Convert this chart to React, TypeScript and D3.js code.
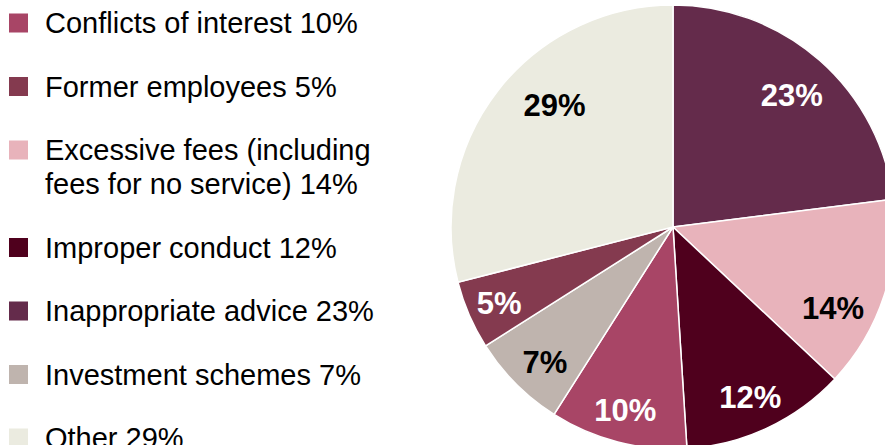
import React, { useEffect, useRef } from 'react';
import * as d3 from 'd3';

// legend order
const categories = [
  'Conflicts of interest',
  'Former employees',
  'Excessive fees (including|fees for no service)',
  'Improper conduct',
  'Inappropriate advice',
  'Investment schemes',
  'Other',
];
const values = [10, 5, 14, 12, 23, 7, 29];
const colors = ['#a84566', '#843a4f', '#e8b3bb', '#4f001d', '#642b4b', '#bfb4ae', '#ebebe0'];
const labelColors = ['#fff', '#fff', '#000', '#fff', '#fff', '#000', '#000'];

// clockwise order of the slices starting at 12 o'clock
const pieOrder = [4, 2, 3, 0, 5, 1, 6];
// small hand nudges for the slice labels (same order as legend)
const labelNudge = [[-2, 5], [-5, 3], [-15, 24], [-1, 3], [-3, 6], [2, 5], [27, -9]];

const App = () => {
  const svgRef = useRef<SVGSVGElement>(null);

  useEffect(() => {
    const svg = d3.select(svgRef.current);
    svg.selectAll('*').remove();

    const font = '"Liberation Sans", Arial, sans-serif';
    const cx = 673;
    const cy = 227;
    const radius = 222;

    const data = pieOrder.map(i => ({ i, value: values[i] }));
    const pie = d3.pie<any>().sort(null).value(d => d.value);
    const arcs = pie(data);

    const arc = d3.arc<any>().innerRadius(0).outerRadius(radius);
    const labelArc = d3.arc<any>().innerRadius(184).outerRadius(184);

    const g = svg.append('g').attr('transform', `translate(${cx},${cy})`);

    g.selectAll('path')
      .data(arcs)
      .enter().append('path')
      .attr('d', arc)
      .attr('fill', d => colors[d.data.i])
      .attr('stroke', '#fff')
      .attr('stroke-width', 1.5);

    g.selectAll('text')
      .data(arcs)
      .enter().append('text')
      .attr('transform', d => {
        const [x, y] = labelArc.centroid(d);
        const [nx, ny] = labelNudge[d.data.i];
        return `translate(${x + nx},${y + ny})`;
      })
      .attr('text-anchor', 'middle')
      .attr('dy', '0.36em')
      .attr('font-family', font)
      .attr('font-weight', 'bold')
      .attr('font-size', 31)
      .attr('fill', d => labelColors[d.data.i])
      .text(d => `${d.data.value}%`);

    // legend
    const legend = svg.append('g');
    let y = 23;
    categories.forEach((name, i) => {
      const lines = name.split('|');
      legend.append('rect')
        .attr('x', 9)
        .attr('y', y - 9.5)
        .attr('width', 19)
        .attr('height', 19)
        .attr('fill', colors[i]);
      const t = legend.append('text')
        .attr('font-family', font)
        .attr('font-size', 29)
        .attr('fill', '#000');
      lines.forEach((line, j) => {
        t.append('tspan')
          .attr('x', 45)
          .attr('y', y + j * 34)
          .attr('dy', '0.36em')
          .text(j === lines.length - 1 ? `${line} ${values[i]}%` : line);
      });
      y += 63.5 + (lines.length - 1) * 34;
    });
  }, []);

  return (
    <svg
      ref={svgRef}
      width={885}
      height={445}
      style={{ position: 'absolute', left: 0, top: 0, background: '#fff' }}
    />
  );
};

export default App;
